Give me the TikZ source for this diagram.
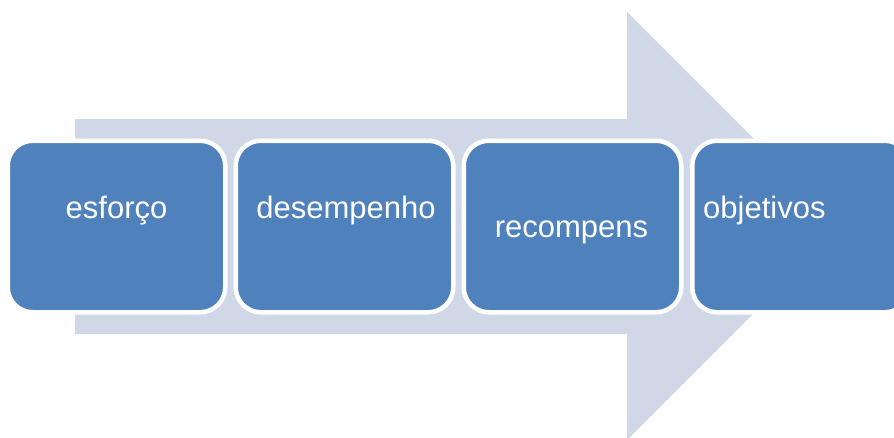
\documentclass[tikz,border=0pt]{standalone}
\usepackage{fontspec}
\setmainfont{Liberation Sans}
\definecolor{arrowfill}{HTML}{D0D8E8}
\definecolor{boxfill}{HTML}{4F81BD}
\begin{document}
\begin{tikzpicture}[x=1pt,y=-1pt,
  stagebox/.style={draw=white, line width=4.5pt, fill=boxfill, rounded corners=25pt,
    minimum width=217.5pt, minimum height=171.5pt, inner sep=0pt, outer sep=0pt},
  stagelabel/.style={text=white, font=\fontsize{31}{37}\selectfont, inner sep=0pt}]
\useasboundingbox (0,0) rectangle (894,437);
\clip (0,0) rectangle (894,437);
\fill[white] (0,0) rectangle (894,437);
\fill[arrowfill] (75,119) -- (627,119) -- (627,12) -- (841,226) -- (627,440)
  -- (627,334) -- (75,334) -- cycle;
\node[stagebox] (b1) at (116.5,226.5) {};
\node[stagebox] (b2) at (344.5,226.5) {};
\node[stagebox] (b3) at (572.5,226.5) {};
\node[stagebox] (b4) at (801,226.5) {};
\node[stagelabel, anchor=base] (t1) at (116.5,218) {esforço};
\node[stagelabel, anchor=base] (t2) at (346,218) {desempenho};
\node[stagelabel, anchor=base] (t3) at (571.5,237) {recompens};
\node[stagelabel, anchor=base west] (t4) at (703,218) {objetivos};
\end{tikzpicture}
\end{document}
